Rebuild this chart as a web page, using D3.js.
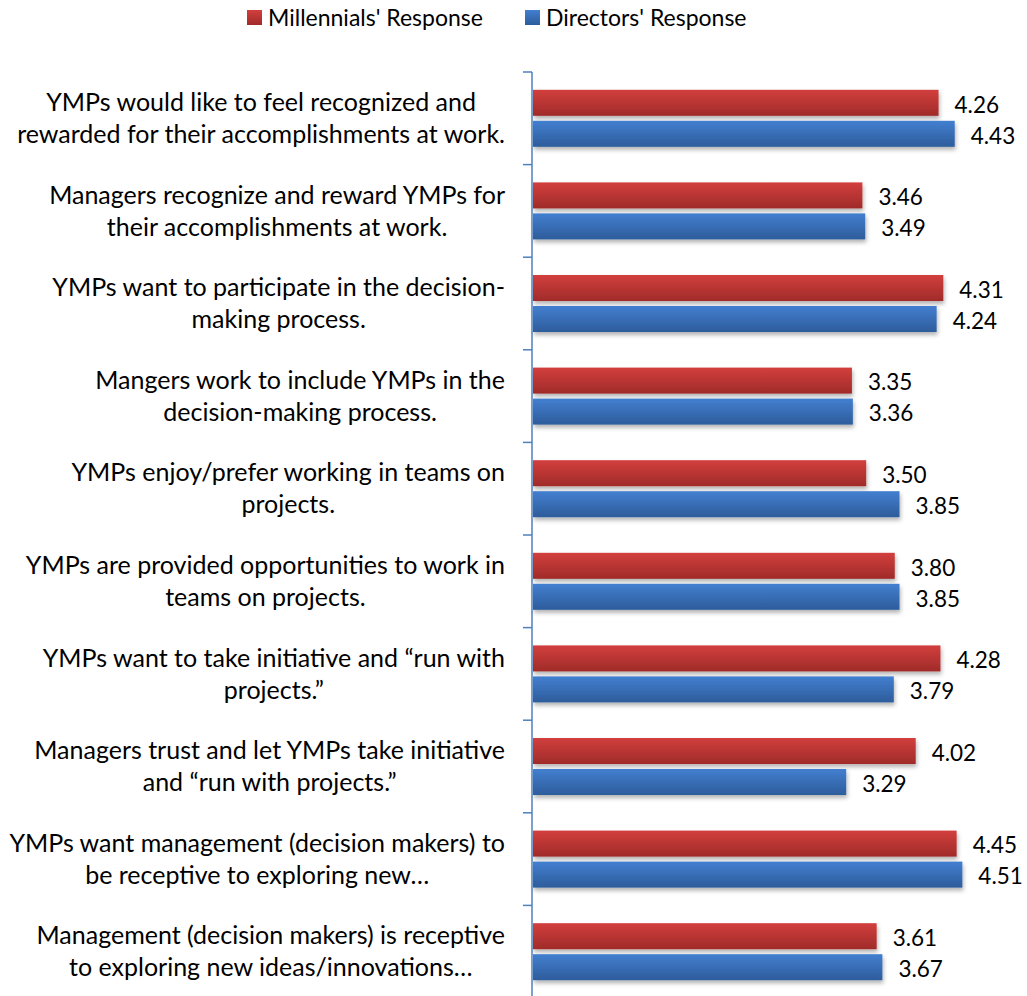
<!DOCTYPE html>
<html>
<head>
<meta charset="utf-8">
<script src="https://cdn.jsdelivr.net/npm/d3@7"></script>
<style>
  body { margin: 0; background: #fff; }
  text { font-family: Lato, "Open Sans", sans-serif; fill: #000; }
</style>
</head>
<body>
<div id="chart"></div>
<script>
// chart data
var categories = [
    ["YMPs would like to feel recognized and", "rewarded for their accomplishments at work."],
    ["Managers recognize and reward YMPs for", "their accomplishments at work."],
    ["YMPs want to participate in the decision-", "making process."],
    ["Mangers work to include YMPs in the", "decision-making process."],
    ["YMPs enjoy/prefer working in teams on", "projects."],
    ["YMPs are provided opportunities to work in", "teams on projects."],
    ["YMPs want to take initiative and \u201crun with", "projects.\u201d"],
    ["Managers trust and let YMPs take initiative", "and \u201crun with projects.\u201d"],
    ["YMPs want management (decision makers) to", "be receptive to exploring new\u2026"],
    ["Management (decision makers) is receptive", "to exploring new ideas/innovations\u2026"]
];
var seriesNames = ["Millennials' Response", "Directors' Response"];
var millennials = [4.26, 3.46, 4.31, 3.35, 3.50, 3.80, 4.28, 4.02, 4.45, 3.61];
var directors   = [4.43, 3.49, 4.24, 3.36, 3.85, 3.85, 3.79, 3.29, 4.51, 3.67];
var xDomain = [0, 5];

var width = 1027, height = 996;
var plot = { left: 533, right: 1009, top: 72, bottom: 998 };

var svg = d3.select("#chart").append("svg")
    .attr("width", width)
    .attr("height", height);

var defs = svg.append("defs");

// bar gradients (top lighter, bottom darker)
var gradients = [
    { id: "gradRed", top: "#d23f3d", bottom: "#a02b2a" },
    { id: "gradBlue", top: "#437fd0", bottom: "#2d5c9b" }
];
gradients.forEach(function(g) {
    var lg = defs.append("linearGradient")
        .attr("id", g.id)
        .attr("x1", 0).attr("y1", 0).attr("x2", 0).attr("y2", 1);
    lg.append("stop").attr("offset", "0%").attr("stop-color", g.top);
    lg.append("stop").attr("offset", "100%").attr("stop-color", g.bottom);
});

var shadow = defs.append("filter")
    .attr("id", "shadow")
    .attr("x", "-5%").attr("y", "-30%")
    .attr("width", "110%").attr("height", "180%");
shadow.append("feDropShadow")
    .attr("dx", 1).attr("dy", 3)
    .attr("stdDeviation", 2)
    .attr("flood-color", "#000")
    .attr("flood-opacity", 0.3);

var x = d3.scaleLinear()
    .domain(xDomain)
    .range([plot.left, plot.right]);

var y = d3.scaleBand()
    .domain(d3.range(categories.length))
    .range([plot.top, plot.bottom]);

// inner band for the two series
var groupH = 57;
var ySeries = d3.scaleBand()
    .domain([0, 1])
    .range([0, groupH])
    .paddingInner(0.161);

var fills = ["url(#gradRed)", "url(#gradBlue)"];

var rows = categories.map(function(c, i) {
    return { i: i, lines: c, vals: [millennials[i], directors[i]] };
});

// bars
var groups = svg.selectAll("g.cat")
    .data(rows)
    .enter().append("g")
    .attr("class", "cat")
    .attr("transform", function(d) {
        return "translate(0," + (y(d.i) + y.bandwidth() / 2 - groupH / 2) + ")";
    });

groups.selectAll("rect")
    .data(function(d) { return d.vals.map(function(v, k) { return { k: k, v: v }; }); })
    .enter().append("rect")
    .attr("x", x(0))
    .attr("y", function(d) { return ySeries(d.k); })
    .attr("width", function(d) { return x(d.v) - x(0); })
    .attr("height", ySeries.bandwidth())
    .style("fill", function(d) { return fills[d.k]; })
    .attr("filter", "url(#shadow)");

groups.selectAll("text.val")
    .data(function(d) { return d.vals.map(function(v, k) { return { k: k, v: v }; }); })
    .enter().append("text")
    .attr("class", "val")
    .attr("x", function(d) { return x(d.v) + 16; })
    .attr("y", function(d) { return ySeries(d.k) + ySeries.bandwidth() / 2 + 2; })
    .attr("dy", "0.35em")
    .style("font-size", "22.5px")
    .text(function(d) { return d.v.toFixed(2); });

// category axis
var axisColor = "#4f81bd";
var ax = svg.append("g").attr("class", "axis");
ax.append("line")
    .attr("x1", plot.left - 1).attr("x2", plot.left - 1)
    .attr("y1", plot.top).attr("y2", plot.bottom)
    .attr("stroke", axisColor).attr("stroke-width", 1.5);
ax.selectAll("line.tick")
    .data(d3.range(categories.length + 1))
    .enter().append("line")
    .attr("class", "tick")
    .attr("x1", plot.left - 10).attr("x2", plot.left - 1)
    .attr("y1", function(i) { return i < categories.length ? y(i) : plot.bottom; })
    .attr("y2", function(i) { return i < categories.length ? y(i) : plot.bottom; })
    .attr("stroke", axisColor).attr("stroke-width", 1.5);

// category labels: block right-aligned, lines centered in block
var labelRight = 505, lineH = 32;
var labels = svg.selectAll("g.label")
    .data(rows)
    .enter().append("g")
    .attr("class", "label");

labels.each(function(d) {
    var g = d3.select(this);
    var cy = y(d.i) + y.bandwidth() / 2;
    var texts = d.lines.map(function(line, j) {
        return g.append("text")
            .attr("y", cy + (j - (d.lines.length - 1) / 2) * lineH)
            .attr("dy", "0.35em")
            .attr("text-anchor", "middle")
            .style("font-size", "25px")
            .text(line);
    });
    var maxW = d3.max(texts, function(t) { return t.node().getComputedTextLength(); });
    texts.forEach(function(t) { t.attr("x", labelRight - maxW / 2); });
});

// legend
var legendItems = [
    { name: seriesNames[0], x: 247, color: fills[0] },
    { name: seriesNames[1], x: 525, color: fills[1] }
];
var legend = svg.selectAll("g.legend")
    .data(legendItems)
    .enter().append("g")
    .attr("class", "legend")
    .attr("transform", function(d) { return "translate(" + d.x + ",10)"; });
legend.append("rect")
    .attr("width", 15).attr("height", 15)
    .style("fill", function(d) { return d.color; });
legend.append("text")
    .attr("x", 21).attr("y", 8)
    .attr("dy", "0.35em")
    .style("font-size", "23px")
    .text(function(d) { return d.name; });
</script>
</body>
</html>
